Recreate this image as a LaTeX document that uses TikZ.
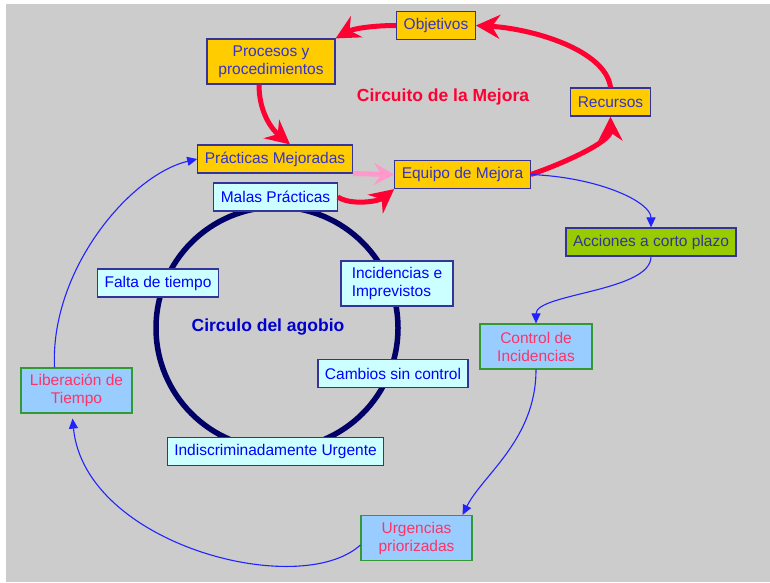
\documentclass[tikz,border=0pt]{standalone}
\usepackage{fontspec}
\setmainfont{Liberation Sans}
\usepackage{xcolor}
\usepackage{tikz}
\usetikzlibrary{arrows.meta}

\definecolor{fondo}{HTML}{CCCCCC}
\definecolor{oro}{HTML}{FFCC00}
\definecolor{marco}{HTML}{333399}
\definecolor{azultexto}{HTML}{3333CC}
\definecolor{celeste}{HTML}{CCFFFF}
\definecolor{cielo}{HTML}{99CCFF}
\definecolor{verdemarco}{HTML}{339933}
\definecolor{lima}{HTML}{99CC00}
\definecolor{rojo}{HTML}{FF0033}
\definecolor{rosa}{HTML}{FF99CC}
\definecolor{fresa}{HTML}{FF3366}
\definecolor{azulflecha}{HTML}{2222FF}
\definecolor{marino}{HTML}{000066}

\begin{document}
\begin{tikzpicture}[x=1pt, y=-1pt,
        caja/.style={draw=marco, line width=1.2pt, inner xsep=7pt, inner ysep=4pt,
            minimum height=28pt, align=center, font=\fontsize{15.5}{18}\selectfont},
        amarilla/.style={caja, fill=oro, text=azultexto},
        clara/.style={caja, fill=celeste, text=blue},
        liberada/.style={caja, draw=verdemarco, fill=cielo, text=fresa, minimum width=111pt, minimum height=45pt},
        corto/.style={caja, fill=lima, text=marco},
        titulo/.style={font=\bfseries\fontsize{17.5}{20}\selectfont},
        mejora/.style={line width=5pt, rojo, -{Stealth[length=24pt, width=24pt, inset=8pt]}},
        enlace/.style={line width=1.1pt, azulflecha, -{Triangle[length=10pt, width=9pt]}}]
    \useasboundingbox (0,0) rectangle (770,582);
    \fill[fondo] (6,4) rectangle (770,582);
    % Circulo del agobio
    \draw[line width=5.5pt, marino] (277,328) circle (121pt);
    \node[titulo, text={rgb,255:red,0;green,0;blue,204}] (agobio) at (268,327) {Circulo del agobio};
    \node[titulo, text=rojo] (circuito) at (443,97) {Circuito de la Mejora};
    % Circuito de la mejora
    \node[amarilla] (obj) at (436,25.5) {Objetivos};
    \node[amarilla, minimum width=128pt, minimum height=45pt] (proc) at (271,61.5) {Procesos y\\procedimientos};
    \node[amarilla] (rec) at (610.5,102) {Recursos};
    \node[amarilla] (prac) at (275,159) {Prácticas Mejoradas};
    \node[amarilla] (equipo) at (462.5,174.5) {Equipo de Mejora};
    % Causas del agobio
    \node[clara] (malas) at (275.5,197) {Malas Prácticas};
    \node[clara] (falta) at (158,283) {Falta de tiempo};
    \node[clara, align=left, minimum width=112pt, minimum height=45pt] (incid) at (397,283.5) {Incidencias e\\Imprevistos};
    \node[clara] (cambios) at (393,373.5) {Cambios sin control};
    \node[clara] (indis) at (275.5,451.5) {Indiscriminadamente Urgente};
    % Salida del circulo
    \node[corto] (acc) at (651,242) {Acciones a corto plazo};
    \node[liberada, minimum width=112pt] (ctrl) at (536,346.5) {Control de\\Incidencias};
    \node[liberada] (urg) at (416.5,538) {Urgencias\\priorizadas};
    \node[liberada] (lib) at (76.5,390.5) {Liberación de\\Tiempo};
    % Flechas rojas
    \draw[mejora] (obj.west) .. controls +(-22,0) and +(18,-10) .. (proc.north east);
    \draw[mejora] (rec.north) .. controls +(-5,-38) and +(55,3) .. (obj.east);
    \draw[mejora] ([xshift=-12pt]proc.south) .. controls +(0,28) and +(-18,-15) .. ([xshift=15pt]prac.north);
    \draw[mejora] (equipo.east) .. controls +(35,-12) and +(0,25) .. (rec.south);
    \draw[mejora] (malas.east) .. controls +(14,9) and +(-15,12) .. (equipo.south west);
    \draw[line width=5pt, rosa, -{Stealth[length=20pt, width=22pt, inset=7pt]}] (prac.south east) -- (equipo.west);
    % Flechas azules
    \draw[enlace] (equipo.east) .. controls +(70,3) and +(0,-25) .. (acc.north);
    \draw[enlace] (acc.south) .. controls +(0,35) and +(0,-30) .. (ctrl.north);
    \draw[enlace] (ctrl.south) .. controls +(0,70) and +(20,-40) .. ([xshift=-10pt]urg.north east);
    \draw[enlace] ([yshift=-7pt]urg.west) .. controls (300,600) and (85,545) .. ([xshift=-4pt,yshift=-5pt]lib.south);
    \draw[enlace] ([xshift=-22pt]lib.north) .. controls (50,270) and (130,175) .. (prac.west);
\end{tikzpicture}
\end{document}
